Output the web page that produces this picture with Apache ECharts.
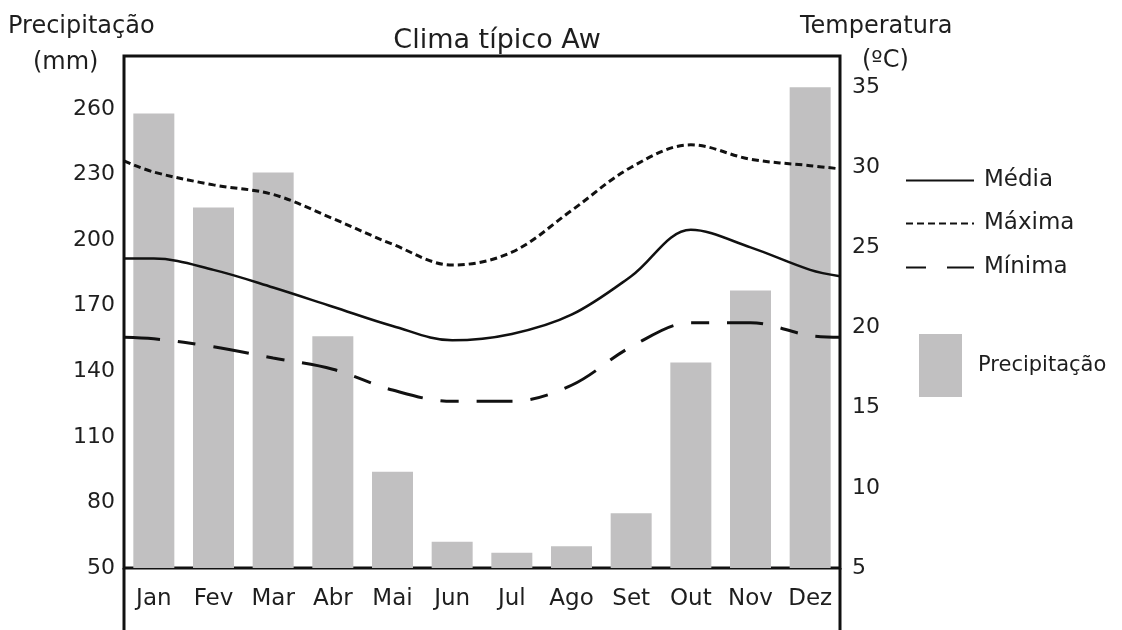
<!DOCTYPE html>
<html>
<head>
<meta charset="utf-8">
<title>Clima típico Aw</title>
<script src="https://cdn.jsdelivr.net/npm/echarts@6.0.0/dist/echarts.min.js"></script>
<style>
  html, body { margin: 0; padding: 0; background: #fff; }
  #chart { width: 1122px; height: 630px; }
</style>
</head>
<body>
<div id="chart"></div>
<script>
// months along the bottom
const months = ['Jan', 'Fev', 'Mar', 'Abr', 'Mai', 'Jun', 'Jul', 'Ago', 'Set', 'Out', 'Nov', 'Dez']
// precipitation in mm (bars, left axis)
const precipitacao = [258, 215, 231, 156, 94, 62, 57, 60, 75, 144, 177, 270]
// temperatures in ºC at mid-month (right axis)
const tMedia = [24.3, 23.6, 22.5, 21.3, 20.1, 19.2, 19.6, 20.8, 23.2, 26.1, 25.0, 23.6]
const tMaxima = [29.7, 28.9, 28.3, 26.8, 25.2, 23.9, 24.7, 27.3, 30.0, 31.4, 30.5, 30.1]
const tMinima = [19.3, 18.8, 18.1, 17.4, 16.1, 15.4, 15.4, 16.4, 18.8, 20.3, 20.3, 19.5]
// where each curve meets the left and right frame
const mediaEdges = [24.3, 23.2]
const maximaEdges = [30.4, 29.9]
const minimaEdges = [19.4, 19.4]
// tick labels
const precipTicks = [50, 80, 110, 140, 170, 200, 230, 260]
const tempTicks = [5, 10, 15, 20, 25, 30, 35]

const FONT = '"DejaVu Sans", sans-serif'
const INK = '#1e1e1e'

// curve points on a 0..12 month scale, frame edge to frame edge
function curve (values, edges) {
  const pts = [[0, edges[0]]]
  values.forEach((v, i) => pts.push([i + 0.5, v]))
  pts.push([12, edges[1]])
  return pts
}

// one legend per entry so each can sit where the original put it
function lineLegend (name, top, extra) {
  return Object.assign({
    data: [name],
    left: 905,
    top: top,
    padding: 0,
    itemWidth: 68,
    itemHeight: 14,
    selectedMode: false,
    itemStyle: { opacity: 0 },
    textStyle: { fontFamily: FONT, fontSize: 23, color: INK, padding: [0, 0, 0, 5] }
  }, extra || {})
}

const chart = echarts.init(document.getElementById('chart'), null, { renderer: 'canvas', width: 1122, height: 630 })

const option = {
  animation: false,
  backgroundColor: '#fff',
  textStyle: { fontFamily: FONT, color: INK },
  title: {
    text: 'Clima típico Aw',
    left: 492,
    textAlign: 'center',
    top: 22,
    textStyle: { fontFamily: FONT, fontSize: 27, fontWeight: 'normal', color: INK }
  },
  grid: {
    left: 124,
    right: 282,
    top: 56,
    bottom: 62,
    show: true,
    borderColor: '#111',
    borderWidth: 3,
    outerBoundsMode: 'none'
  },
  legend: [
    lineLegend('Média', 169),
    lineLegend('Máxima', 212),
    lineLegend('Mínima', 256, { lineStyle: { type: [20, 21, 27] } }),
    {
      data: [{ name: 'Precipitação', icon: 'rect' }],
      left: 919,
      top: 334,
      padding: 0,
      itemWidth: 43,
      itemHeight: 63,
      selectedMode: false,
      textStyle: { fontFamily: FONT, fontSize: 21, color: INK, padding: [0, 0, 6, 11] }
    }
  ],
  xAxis: [
    {
      type: 'category',
      data: months,
      axisLine: { show: false },
      axisTick: { show: false },
      axisLabel: { fontFamily: FONT, fontSize: 23, color: INK, margin: 20 }
    },
    {
      type: 'value',
      min: 0,
      max: 12,
      show: false
    }
  ],
  yAxis: [
    {
      type: 'value',
      position: 'left',
      min: precipTicks[0],
      max: 284.3,
      interval: 30,
      axisLine: { show: false },
      axisTick: { show: false },
      splitLine: { show: false },
      axisLabel: {
        fontFamily: FONT,
        fontSize: 22,
        color: INK,
        margin: 9,
        padding: [0, 0, 8, 0],
        showMaxLabel: false,
        formatter: v => (precipTicks.indexOf(v) >= 0 ? String(v) : '')
      }
    },
    {
      type: 'value',
      position: 'right',
      min: tempTicks[0],
      max: 36.94,
      interval: 5,
      axisLine: { show: false },
      axisTick: { show: false },
      splitLine: { show: false },
      axisLabel: {
        fontFamily: FONT,
        fontSize: 22,
        color: INK,
        margin: 12,
        padding: [0, 0, 8, 0],
        showMaxLabel: false,
        formatter: v => (tempTicks.indexOf(v) >= 0 ? String(v) : '')
      }
    }
  ],
  series: [
    {
      name: 'Precipitação',
      type: 'bar',
      data: precipitacao,
      barWidth: 41,
      itemStyle: { color: '#c1c0c1' },
      z: 1
    },
    {
      name: 'Máxima',
      type: 'line',
      xAxisIndex: 1,
      yAxisIndex: 1,
      data: curve(tMaxima, maximaEdges),
      smooth: 0.35,
      symbol: 'none',
      itemStyle: { color: '#111' },
      lineStyle: { color: '#111', width: 3, type: [7, 4] },
      z: 3
    },
    {
      name: 'Média',
      type: 'line',
      xAxisIndex: 1,
      yAxisIndex: 1,
      data: curve(tMedia, mediaEdges),
      smooth: 0.35,
      symbol: 'none',
      itemStyle: { color: '#111' },
      lineStyle: { color: '#111', width: 2.5, type: 'solid' },
      z: 3
    },
    {
      name: 'Mínima',
      type: 'line',
      xAxisIndex: 1,
      yAxisIndex: 1,
      data: curve(tMinima, minimaEdges),
      smooth: 0.35,
      symbol: 'none',
      itemStyle: { color: '#111' },
      lineStyle: { color: '#111', width: 3, type: [36, 18, 18, 18] },
      z: 3
    }
  ],
  graphic: [
    // frame sides continue down past the month labels
    { type: 'line', shape: { x1: 124, y1: 568, x2: 124, y2: 630 }, style: { stroke: '#111', lineWidth: 3 } },
    { type: 'line', shape: { x1: 840, y1: 568, x2: 840, y2: 630 }, style: { stroke: '#111', lineWidth: 3 } },
    // axis headers
    { type: 'text', left: 8, top: 15, style: { text: 'Precipitação', font: '24px ' + FONT, fill: INK } },
    { type: 'text', left: 33, top: 51, style: { text: '(mm)', font: '24px ' + FONT, fill: INK } },
    { type: 'text', left: 800, top: 15, style: { text: 'Temperatura', font: '24px ' + FONT, fill: INK } },
    { type: 'text', left: 862, top: 49, style: { text: '(ºC)', font: '24px ' + FONT, fill: INK } }
  ]
}

chart.setOption(option)
</script>
</body>
</html>
